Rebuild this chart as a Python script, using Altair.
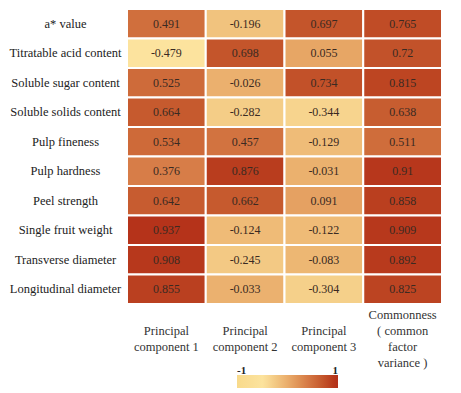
import altair as alt
import pandas as pd

rows = ["a* value", "Titratable acid content", "Soluble sugar content", "Soluble solids content",
        "Pulp fineness", "Pulp hardness", "Peel strength", "Single fruit weight",
        "Transverse diameter", "Longitudinal diameter"]
cols = ["PC1", "PC2", "PC3", "COM"]
pc1 = [0.491, -0.479, 0.525, 0.664, 0.534, 0.376, 0.642, 0.937, 0.908, 0.855]
pc2 = [-0.196, 0.698, -0.026, -0.282, 0.457, 0.876, 0.662, -0.124, -0.245, -0.033]
pc3 = [0.697, 0.055, 0.734, -0.344, -0.129, -0.031, 0.091, -0.122, -0.083, -0.304]
com = [0.765, 0.72, 0.815, 0.638, 0.511, 0.91, 0.858, 0.909, 0.892, 0.825]

records = []
for c, vals in zip(cols, [pc1, pc2, pc3, com]):
    for r, v in zip(rows, vals):
        records.append({"row": r, "col": c, "value": v, "label": f"{v:g}"})
df = pd.DataFrame(records)

label_expr = ("datum.value == 'PC1' ? ['','Principal','component 1',''] : "
              "datum.value == 'PC2' ? ['','Principal','component 2',''] : "
              "datum.value == 'PC3' ? ['','Principal','component 3',''] : "
              "['Commonness','( common','factor','variance )']")

font = "Liberation Serif, Times New Roman, DejaVu Serif, serif"

color = alt.Color(
    "value:Q",
    scale=alt.Scale(
        domain=[-1, -0.479, -0.026, 0.376, 0.937, 1],
        range=["#F8DA8C", "#FCE39E", "#EBB06E", "#D77D48", "#B5331A", "#B3301A"],
    ),
    legend=alt.Legend(
        title=None, orient="none", direction="horizontal",
        legendX=110, legendY=366, gradientLength=101, gradientThickness=13,
        values=[-1, 1], labelOffset={"expr": "-23"}, labelFontWeight="bold",
        labelExpr="datum.value < 0 ? '-1' : '1'",
        labelFont=font, labelFontSize=11, labelColor="#222",
        gradientStrokeWidth=0,
    ),
)

x = alt.X("col:N", sort=cols, title=None,
          axis=alt.Axis(orient="bottom", labelAngle=0, labelExpr=label_expr,
                        labelBaseline="middle", labelPadding=10, ticks=False,
                        domain=False, labelFont=font, labelFontSize=12.5,
                        labelColor="#333", labelLineHeight=16, labelLimit=200))
y = alt.Y("row:N", sort=rows, title=None,
          axis=alt.Axis(labelAlign="center", labelPadding=62, ticks=False,
                        domain=False, labelFont=font, labelFontSize=12.5,
                        labelColor="#222", labelLimit=200))

rects = alt.Chart(df).mark_rect(stroke="white", strokeWidth=2).encode(x=x, y=y, color=color)
texts = alt.Chart(df).mark_text(font=font, fontSize=12, color="#3a2a22").encode(
    x=alt.X("col:N", sort=cols), y=alt.Y("row:N", sort=rows), text="label:N")

chart = (rects + texts).properties(
    width=315, height=295,
    padding={"left": 0, "top": 0, "right": 5, "bottom": 5},
).configure_view(stroke=None).configure_scale(bandPaddingInner=0)

chart.save("out.html", embed_options={"renderer": "svg", "actions": False})
